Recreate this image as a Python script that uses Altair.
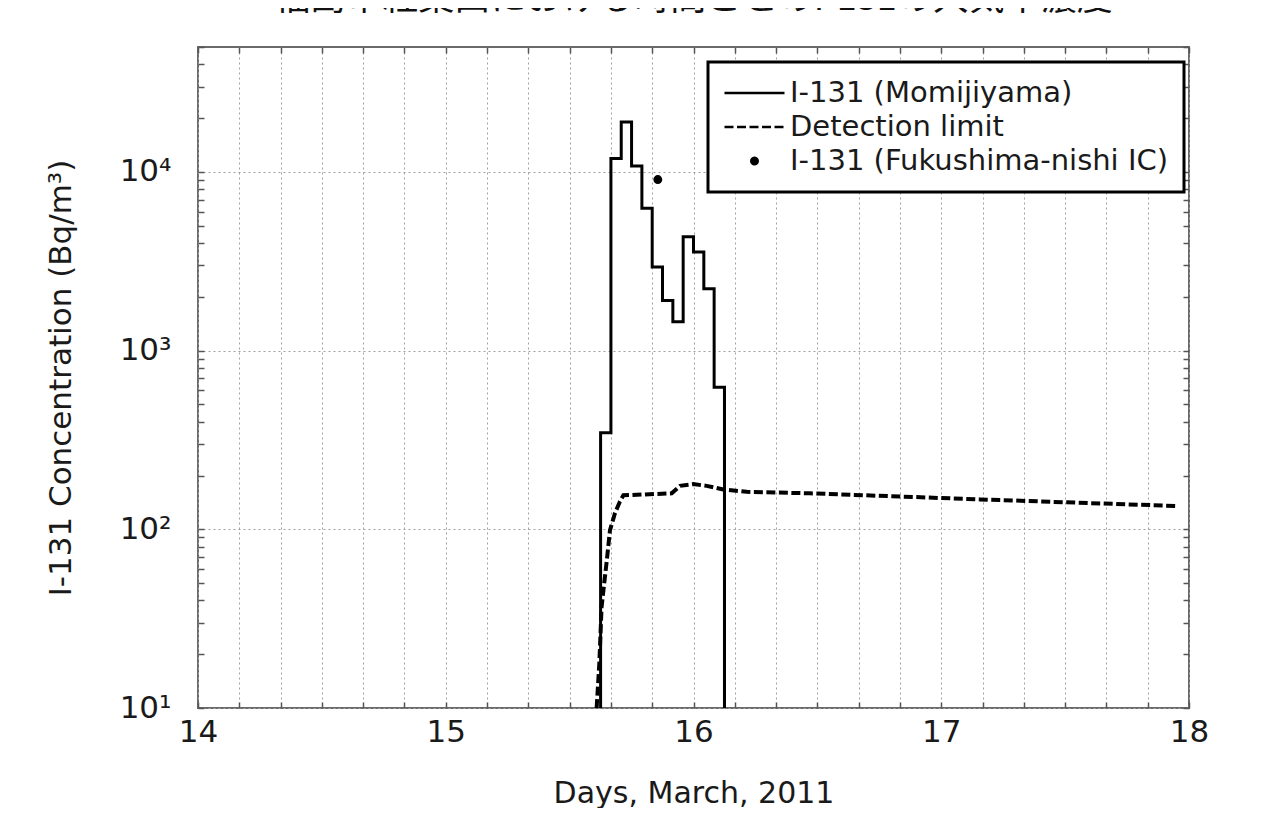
import altair as alt
import pandas as pd

# ---------------- data ----------------
title_text = "福島市紅葉山における時間ごとのI-131の大気中濃度"
series_names = ["I-131 (Momijiyama)", "Detection limit", "I-131 (Fukushima-nishi IC)"]

# hourly step series at Momijiyama (day of March 2011, Bq/m3); 10 = below axis floor
momi_day = [15.625, 15.625, 15.6667, 15.7083, 15.75, 15.7917, 15.8333, 15.875,
            15.9167, 15.9583, 16.0, 16.0417, 16.0833, 16.125]
momi_val = [10, 347, 11900, 19000, 10800, 6260, 2940, 1910, 1450, 4330, 3560, 2220, 624, 10]

# detection limit
det_day = [15.609, 15.620, 15.629, 15.650, 15.663, 15.683, 15.703, 15.717, 15.912,
           15.946, 15.999, 16.053, 16.120, 16.215, 16.470, 17.156, 17.950]
det_val = [10, 17.9, 36.9, 67, 99, 123, 143, 155, 159, 175, 179, 175, 167, 162, 159, 147, 135]

# single measurement at Fukushima-nishi IC
ic_day = [15.856]
ic_val = [9060]

x_label_values = [14, 15, 16, 17, 18]
x_grid_values = [14 + h / 24 for h in range(0, 97, 4)]
y_major = [10, 100, 1000, 10000]
y_major_labels = ["10¹", "10²", "10³", "10⁴"]
y_minor = [20, 30, 40, 50, 60, 70, 80, 90,
           200, 300, 400, 500, 600, 700, 800, 900,
           2000, 3000, 4000, 5000, 6000, 7000, 8000, 9000,
           20000, 30000, 40000, 50000]

# ---------------- frames ----------------
momi_df = pd.DataFrame({"day": momi_day, "value": momi_val,
                        "series": series_names[0], "idx": range(len(momi_day))})
det_df = pd.DataFrame({"day": det_day, "value": det_val,
                       "series": series_names[1], "idx": range(len(det_day))})
ic_df = pd.DataFrame({"day": ic_day, "value": ic_val, "series": series_names[2]})

FONT = "DejaVu Sans"
TXT = "#1a1a1a"
GRID = "#a0a0a0"
TICK = "#555555"

xscale = alt.Scale(domain=[14, 18], nice=False, zero=False)
yscale = alt.Scale(type="log", domain=[10, 50000], nice=False)

# symbol paths (unit = half of sqrt(size)); the dot is two concentric rings -> solid disc
LINE_PATH = "M-1,0H1"
DOT_PATH = ("M0.107,0A0.107,0.107,0,1,1,-0.107,0A0.107,0.107,0,1,1,0.107,0Z"
            "M0.04,0A0.04,0.04,0,1,1,-0.04,0A0.04,0.04,0,1,1,0.04,0Z")
dash_scale = alt.Scale(domain=series_names, range=[[1, 0], [9, 3.5], [1, 0]])
shape_scale = alt.Scale(domain=series_names, range=[LINE_PATH, LINE_PATH, DOT_PATH])

ylabel_expr = " : ".join(
    f"datum.value == {v} ? '{l}'" for v, l in zip(y_major, y_major_labels)
) + " : ''"
xlabel_expr = ("indexof(" + str(x_label_values) + ", round(datum.value * 1000) / 1000) >= 0"
               " ? format(datum.value, 'd') : ''")

legend = alt.Legend(
    title=None, orient="none", legendX=510, legendY=15,
    symbolSize=3600, symbolStrokeWidth=2.5, symbolStrokeColor="black",
    symbolOpacity=1,
    clipHeight=32, rowPadding=2, padding=15,
    labelOffset=4, labelFont=FONT, labelFontSize=29, labelColor=TXT, labelLimit=0,
    strokeColor="black", fillColor="white",
)

x_main = alt.Axis(values=x_grid_values, labelExpr=xlabel_expr, ticks=False, domain=False,
                  grid=True, gridColor=GRID, gridDash=[2, 3], gridWidth=1,
                  labelFont=FONT, labelFontSize=31, labelColor=TXT, labelPadding=9,
                  labelFlush=False, labelOverlap=False,
                  title="Days, March, 2011", titleFont=FONT, titleFontSize=30,
                  titleFontWeight="normal", titleColor=TXT, titlePadding=31)
y_main = alt.Axis(values=y_major, labelExpr=ylabel_expr, ticks=False, domain=False,
                  grid=True, gridColor=GRID, gridDash=[2, 3], gridWidth=1,
                  labelFont=FONT, labelFontSize=31, labelColor=TXT, labelPadding=27,
                  labelFlush=False, labelOverlap=False,
                  title="I-131 Concentration (Bq/m³)", titleFont=FONT, titleFontSize=31,
                  titleFontWeight="normal", titleColor=TXT, titlePadding=42)


def tick_axis(orient, values):
    return alt.Axis(orient=orient, offset=-6, values=values, tickSize=6, tickColor=TICK,
                    tickWidth=1.5, labels=False, domain=False, grid=False, title=None)


momi = alt.Chart(momi_df).mark_line(interpolate="step-after", strokeWidth=3, color="black",
                                     clip=True).encode(
    x=alt.X("day:Q", scale=xscale, axis=x_main),
    y=alt.Y("value:Q", scale=yscale, axis=y_main),
    strokeDash=alt.StrokeDash("series:N", scale=dash_scale, legend=legend),
    order=alt.Order("idx:Q"),
)

det = alt.Chart(det_df).mark_line(strokeWidth=4, color="black", clip=True).encode(
    x=alt.X("day:Q", scale=xscale, axis=tick_axis("bottom", x_grid_values)),
    y=alt.Y("value:Q", scale=yscale, axis=tick_axis("left", y_minor + y_major)),
    strokeDash=alt.StrokeDash("series:N", scale=dash_scale, legend=legend),
    order=alt.Order("idx:Q"),
)

icp = alt.Chart(ic_df).mark_point(filled=False, size=3600, strokeWidth=2.5, opacity=1,
                                  color="black").encode(
    x=alt.X("day:Q", scale=xscale, axis=tick_axis("top", x_grid_values)),
    y=alt.Y("value:Q", scale=yscale, axis=tick_axis("right", y_minor + y_major)),
    shape=alt.Shape("series:N", scale=shape_scale, legend=legend),
)

chart = (
    alt.layer(momi, det, icp)
    .resolve_axis(x="independent", y="independent")
    .properties(
        width=991, height=661,
        title=alt.TitleParams(text=title_text, font="Noto Sans CJK JP", fontSize=36,
                              fontWeight="normal", color="#111111", anchor="middle",
                              baseline="bottom", offset=8, dy=16, frame="group"),
        autosize=alt.AutoSizeParams(type="none"),
        padding={"left": 190, "top": 39, "right": 75, "bottom": 100},
    )
    .configure(background="white")
    .configure_view(stroke="#6a6a6a", strokeWidth=2)
)

try:
    chart.configure_legend(strokeWidth=3).save(
        "out.html", embed_options={"renderer": "svg", "actions": False})
except Exception:
    chart.save("out.html", embed_options={"renderer": "svg", "actions": False})
